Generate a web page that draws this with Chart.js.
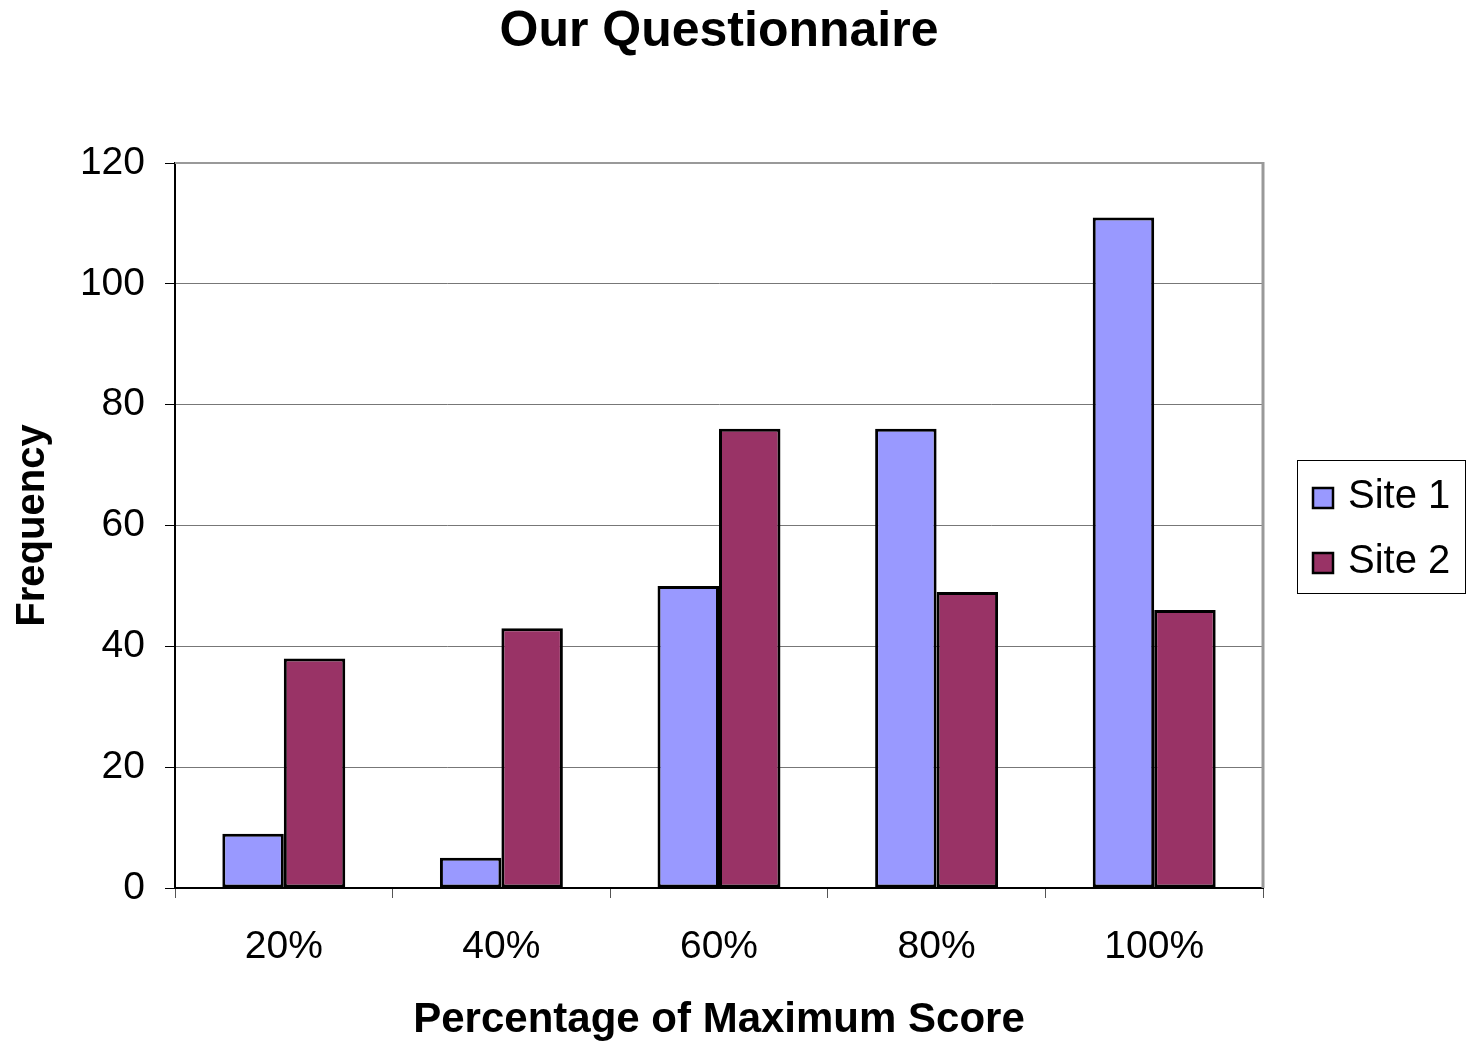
<!DOCTYPE html>
<html>
<head>
<meta charset="utf-8">
<script src="https://cdn.jsdelivr.net/npm/chart.js@4/dist/chart.umd.min.js"></script>
<style>
  html, body { margin: 0; padding: 0; background: #fff; }
  #wrap { width: 1466px; height: 1041px; }
</style>
</head>
<body>
<div id="wrap"><canvas id="c" width="1466" height="1041"></canvas></div>
<script>
// Score bands and frequency counts per site
const categories = ['20%', '40%', '60%', '80%', '100%'];
const site1 = [9, 5, 50, 76, 111];
const site2 = [38, 43, 76, 49, 46];
const seriesNames = ['Site 1', 'Site 2'];
const yTicks = [0, 20, 40, 60, 80, 100, 120];

const FONT = '"Liberation Sans", Arial, Helvetica, sans-serif';

// Grey frame on the top and right edges of the plot area
const plotFrame = {
  id: 'plotFrame',
  beforeDatasetsDraw(chart) {
    const { ctx, chartArea: a } = chart;
    ctx.save();
    ctx.strokeStyle = '#999999';
    ctx.lineWidth = 2;
    ctx.beginPath();
    ctx.moveTo(a.left, a.top);
    ctx.lineTo(a.right, a.top);
    ctx.stroke();
    ctx.lineWidth = 3;
    ctx.beginPath();
    ctx.moveTo(a.right, a.top - 1);
    ctx.lineTo(a.right, a.bottom);
    ctx.stroke();
    ctx.restore();
  }
};

// Boxed legend to the right of the plot
const boxedLegend = {
  id: 'boxedLegend',
  afterDraw(chart) {
    const { ctx } = chart;
    const x = 1297, y = 460, w = 168, h = 133;
    ctx.save();
    ctx.fillStyle = '#fff';
    ctx.fillRect(x, y, w, h);
    ctx.strokeStyle = '#000';
    ctx.lineWidth = 1;
    ctx.strokeRect(x + 0.5, y + 0.5, w, h);
    ctx.font = '40px ' + FONT;
    ctx.textBaseline = 'alphabetic';
    chart.data.datasets.forEach((ds, i) => {
      const rowBase = 508 + i * 65;
      ctx.fillStyle = ds.backgroundColor;
      ctx.fillRect(1313, rowBase - 20, 20, 20);
      ctx.lineWidth = 2.5;
      ctx.strokeStyle = '#000';
      ctx.strokeRect(1313, rowBase - 20, 20, 20);
      ctx.fillStyle = '#000';
      ctx.fillText(ds.label, 1348, rowBase);
    });
    ctx.restore();
  }
};

new Chart(document.getElementById('c'), {
  type: 'bar',
  data: {
    labels: categories,
    datasets: [
      {
        label: seriesNames[0],
        data: site1,
        backgroundColor: '#9999FF',
        borderColor: '#000000',
        borderWidth: 3,
        borderSkipped: false
      },
      {
        label: seriesNames[1],
        data: site2,
        backgroundColor: '#993366',
        borderColor: '#000000',
        borderWidth: 3,
        borderSkipped: false
      }
    ]
  },
  options: {
    responsive: false,
    animation: false,
    events: [],
    layout: { padding: { left: 0, right: 203, top: 0, bottom: 0 } },
    datasets: {
      bar: { barPercentage: 1.0, categoryPercentage: 0.565 }
    },
    plugins: {
      legend: { display: false },
      tooltip: { enabled: false },
      title: {
        display: true,
        fullSize: false,
        text: 'Our Questionnaire',
        color: '#000',
        font: { family: FONT, size: 50, weight: 'bold', lineHeight: 1.2 },
        padding: { top: 2, bottom: 101 }
      }
    },
    scales: {
      x: {
        afterFit(scale) { scale.height = 153; },
        grid: {
          display: true,
          drawOnChartArea: false,
          drawTicks: true,
          offset: true,
          tickLength: 10,
          tickColor: '#555555',
          tickWidth: 1
        },
        border: { display: true, color: '#000000', width: 2 },
        ticks: {
          color: '#000',
          padding: 26,
          font: { family: FONT, size: 39 }
        },
        title: {
          display: true,
          text: 'Percentage of Maximum Score',
          color: '#000',
          font: { family: FONT, size: 42, weight: 'bold', lineHeight: 1.0 },
          padding: { top: 0, bottom: 0 }
        }
      },
      y: {
        min: 0,
        max: 120,
        afterFit(scale) { scale.width = 175; },
        afterBuildTicks(scale) { scale.ticks = yTicks.map(v => ({ value: v })); },
        grid: {
          color: '#777777',
          lineWidth: 1,
          drawTicks: true,
          tickLength: 10,
          tickColor: '#000000'
        },
        border: { display: true, color: '#000000', width: 2 },
        ticks: {
          color: '#000',
          padding: 20,
          font: { family: FONT, size: 39 }
        },
        title: {
          display: true,
          text: 'Frequency',
          color: '#000',
          font: { family: FONT, size: 40, weight: 'bold', lineHeight: 1.2 },
          padding: { top: 9, bottom: 0 }
        }
      }
    }
  },
  plugins: [plotFrame, boxedLegend]
});
</script>
</body>
</html>
